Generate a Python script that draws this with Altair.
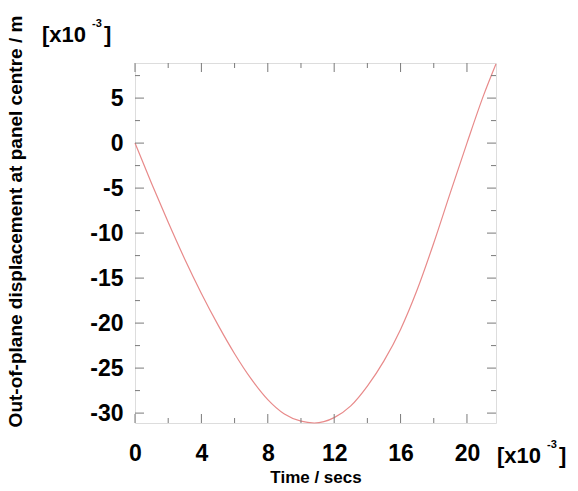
import altair as alt
import pandas as pd

# data (time in 1e-3 s, displacement in 1e-3 m)
time_ms = [0, 1, 2, 3, 4, 5, 6, 7, 8, 9, 10, 10.8, 12, 13, 14, 15, 16, 17, 18, 19, 20, 21, 21.75]
disp_mm = [0, -4.5, -8.8, -12.9, -16.7, -20.2, -23.4, -26.2, -28.5, -30.1, -30.9, -31.1, -30.5,
           -29.2, -27.0, -24.2, -20.7, -16.3, -11.1, -5.5, 0.0, 5.3, 8.8]

x_major = [0, 4, 8, 12, 16, 20]
x_minor = [2, 6, 10, 14, 18]
y_major = [-30, -25, -20, -15, -10, -5, 0, 5]
y_minor = [-27.5, -22.5, -17.5, -12.5, -7.5, -2.5, 2.5, 7.5]

X_DOMAIN = [0, 21.75]
Y_DOMAIN = [-31.1, 8.9]
W, H = 361, 360
FONT = "Liberation Sans"
AX = "#7a7a7a"

df = pd.DataFrame({"t": time_ms, "d": disp_mm})
xs = alt.Scale(domain=X_DOMAIN, nice=False, zero=False)
ys = alt.Scale(domain=Y_DOMAIN, nice=False, zero=False)

base = alt.Chart(df)

line = base.mark_line(color="#e88a8a", strokeWidth=1.2, interpolate="monotone").encode(
    x=alt.X("t:Q", scale=xs,
            axis=alt.Axis(values=x_major, labelExpr="'' + datum.value", ticks=False, domain=False, grid=False,
                          labelFlush=False, labelFontSize=23, labelFont=FONT, labelFontWeight="bold",
                          labelColor="black", labelPadding=19, title="Time / secs", titleFont=FONT,
                          titleFontSize=17, titleFontWeight="bold", titlePadding=4, titleColor="black")),
    y=alt.Y("d:Q", scale=ys,
            axis=alt.Axis(values=y_major, labelExpr="'' + datum.value", ticks=False, domain=False, grid=False,
                          labelFlush=False, labelFontSize=23, labelFont=FONT, labelFontWeight="bold",
                          labelColor="black", labelPadding=12,
                          title="Out-of-plane displacement at panel centre / m", titleFont=FONT,
                          titleFontSize=19, titleFontWeight="bold", titleColor="black",
                          titleX=-120, titleY=158, titleAngle=270, titleAlign="center",
                          titleBaseline="middle")),
)

def xticks(vals, length):
    d = pd.DataFrame({"t": vals})
    bot = alt.Chart(d).mark_rule(color=AX, strokeWidth=1).encode(
        x=alt.X("t:Q", scale=xs), y=alt.value(H), y2=alt.value(H - length))
    top = alt.Chart(d).mark_rule(color=AX, strokeWidth=1).encode(
        x=alt.X("t:Q", scale=xs), y=alt.value(0), y2=alt.value(length))
    return bot + top

def yticks(vals, length):
    d = pd.DataFrame({"d": vals})
    left = alt.Chart(d).mark_rule(color=AX, strokeWidth=1).encode(
        y=alt.Y("d:Q", scale=ys), x=alt.value(0), x2=alt.value(length))
    right = alt.Chart(d).mark_rule(color=AX, strokeWidth=1).encode(
        y=alt.Y("d:Q", scale=ys), x=alt.value(W), x2=alt.value(W - length))
    return left + right

def mult_label(x0, y0):
    big = alt.Chart(pd.DataFrame({"s": ["[x10"]})).mark_text(
        font=FONT, fontSize=22, fontWeight="bold", align="left", baseline="middle", color="black"
    ).encode(text="s:N", x=alt.value(x0), y=alt.value(y0))
    sup = alt.Chart(pd.DataFrame({"s": ["-3"]})).mark_text(
        font=FONT, fontSize=11, fontWeight="bold", align="left", baseline="middle", color="black"
    ).encode(text="s:N", x=alt.value(x0 + 50), y=alt.value(y0 - 11))
    br = alt.Chart(pd.DataFrame({"s": ["]"]})).mark_text(
        font=FONT, fontSize=22, fontWeight="bold", align="left", baseline="middle", color="black"
    ).encode(text="s:N", x=alt.value(x0 + 62), y=alt.value(y0))
    return big + sup + br

chart = alt.layer(
    line,
    xticks(x_major, 9), xticks(x_minor, 5),
    yticks(y_major, 9), yticks(y_minor, 5),
    mult_label(-93, -28), mult_label(362, 393),
).properties(
    width=W, height=H,
    autosize=alt.AutoSizeParams(type="none"),
    padding={"left": 135, "top": 63, "right": 82, "bottom": 68},
).configure_view(stroke=AX, strokeWidth=1.2).configure(background="white")

chart.save("out.html", embed_options={"renderer": "svg", "actions": False})
